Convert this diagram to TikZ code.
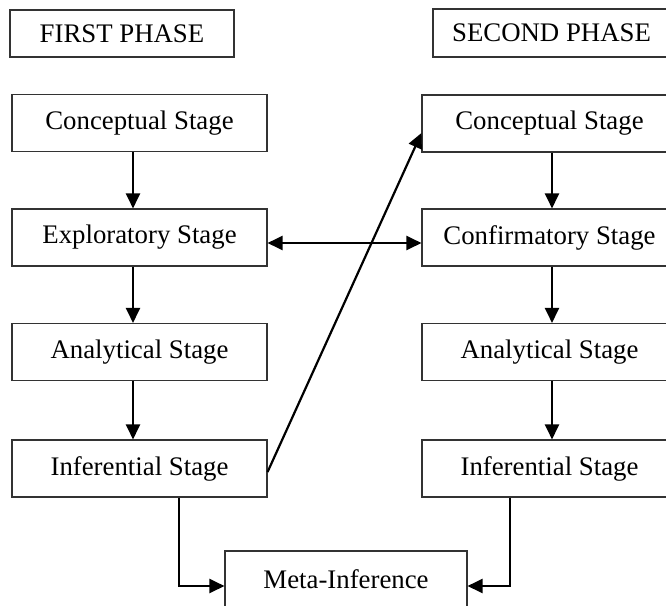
\documentclass[tikz,border=0pt]{standalone}
\usepackage{fontspec}
\setmainfont{Liberation Serif}
\usetikzlibrary{arrows.meta,calc}
\begin{document}
\begin{tikzpicture}[x=1pt,y=-1pt,
  box/.style={draw=black!80,line width=1.1pt,minimum width=255pt,minimum height=57pt,inner sep=0pt,font=\fontsize{26.8}{30}\selectfont},
  conn/.style={line width=2.2pt,-{Triangle[length=15pt,width=14pt]}},
  dbl/.style={line width=2.2pt,{Triangle[length=15pt,width=14pt]}-{Triangle[length=15pt,width=14pt]}}]
\useasboundingbox (0,0) rectangle (666,605);
\clip (0,0) rectangle (666,605);
% phase labels
\node[box,minimum width=224pt,minimum height=47pt] (fp) at (122,33.5) {FIRST PHASE};
\node[box,minimum width=237pt,minimum height=48pt] (sp) at (551.5,33) {SECOND PHASE};
% first phase column
\node[box] (lc) at (139.5,123) {Conceptual Stage};
\node[box] (le) at (139.5,237.5) {Exploratory Stage};
\node[box] (la) at (139.5,352) {Analytical Stage};
\node[box] (li) at (139.5,468.5) {Inferential Stage};
% second phase column
\node[box] (rc) at (549.5,123.5) {Conceptual Stage};
\node[box] (rce) at (549.5,237.5) {Confirmatory Stage};
\node[box] (ra) at (549.5,352) {Analytical Stage};
\node[box] (ri) at (549.5,468.5) {Inferential Stage};
% meta inference
\node[box,minimum width=242pt] (meta) at (346,579.5) {Meta-Inference};
% helper coordinates
\coordinate (lx) at (133,0);
\coordinate (rx) at (552,0);
\coordinate (dy) at (0,243);
\coordinate (d1) at (0,472);
\coordinate (d2) at (0,133);
\coordinate (ml) at (179,0);
\coordinate (mr) at (510,0);
\coordinate (my) at (0,586);
% vertical arrows
\draw[conn] (lc.south -| lx) -- (le.north -| lx);
\draw[conn] (le.south -| lx) -- (la.north -| lx);
\draw[conn] (la.south -| lx) -- (li.north -| lx);
\draw[conn] (rc.south -| rx) -- (rce.north -| rx);
\draw[conn] (rce.south -| rx) -- (ra.north -| rx);
\draw[conn] (ra.south -| rx) -- (ri.north -| rx);
% cross links
\draw[dbl] (le.east |- dy) -- (rce.west |- dy);
\draw[conn] (li.east |- d1) -- (rc.west |- d2);
% to meta-inference
\draw[conn] (li.south -| ml) |- (meta.west |- my);
\draw[conn] (ri.south -| mr) |- (meta.east |- my);
\end{tikzpicture}
\end{document}
